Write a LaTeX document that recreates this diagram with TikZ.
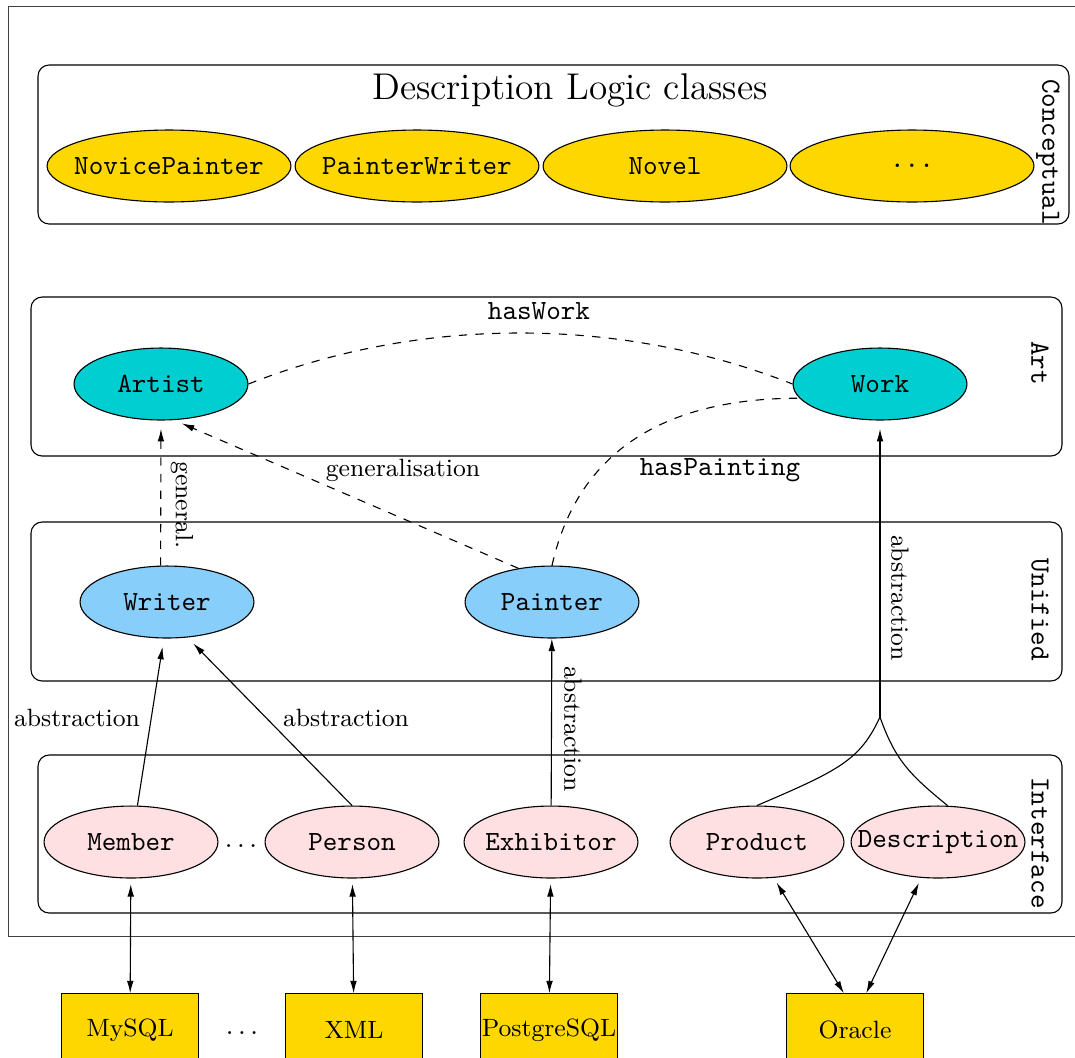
\documentclass[tikz,border=0pt]{standalone}
\usepackage{tikz}
\usetikzlibrary{arrows.meta, shapes.geometric}
\definecolor{dlgold}{RGB}{255,215,0}
\definecolor{artcyan}{RGB}{0,206,209}
\definecolor{unifblue}{RGB}{135,206,250}
\definecolor{ifpink}{RGB}{255,224,226}
\tikzset{layer/.style = {draw, rounded corners = 4pt}}
\tikzset{layername/.style = {rotate = -90, font = \ttfamily}}
\tikzset{cls/.style = {shape = ellipse, draw, inner xsep = -7pt, inner ysep = 0pt, minimum width = 62.6pt, minimum height = 25.9pt, font = \ttfamily}}
\tikzset{dlcls/.style = {cls, fill = dlgold, minimum width = 87.8pt}}
\tikzset{source/.style = {shape = rectangle, draw, fill = dlgold, inner xsep = 0pt, minimum width = 49.3pt, minimum height = 26pt, font = \small}}
\tikzset{edge/.style = {-{Latex[length = 4.5pt, width = 2.4pt]}, shorten > = 3pt}}
\tikzset{genedge/.style = {edge, dashed}}
\tikzset{assoc/.style = {dashed}}
\tikzset{link/.style = {{Latex[length = 4.5pt, width = 2.4pt]}-{Latex[length = 4.5pt, width = 2.4pt]}, shorten < = 2pt}}
\tikzset{edgelabel/.style = {font = \small}}

\begin{document}
\begin{tikzpicture}[x = 0.36pt, y = -0.36pt]
	\useasboundingbox (0, 0) rectangle (1075, 1057);
	\clip (0, 0) rectangle (1075, 1057);
	\draw[black!75, line width = 0.3pt] (8, 6) rectangle (1090, 936);

	\draw[layer] (38, 65) rectangle (1069, 224);
	\draw[layer] (31, 297) rectangle (1062, 456);
	\draw[layer] (31, 522) rectangle (1062, 681);
	\draw[layer] (38, 755) rectangle (1062, 913);
	\node[layername] (conceptual) at (1048, 152) {Conceptual};
	\node[layername] (art) at (1040, 363) {Art};
	\node[layername] (unified) at (1040, 610) {Unified};
	\node[layername] (interface) at (1040, 843) {Interface};

	\node[font = \fontsize{13.4}{16}\selectfont] (title) at (570, 90) {Description Logic classes};
	\node[dlcls] (novice) at (169, 166) {NovicePainter};
	\node[dlcls] (pw) at (417, 166) {PainterWriter};
	\node[dlcls] (novel) at (665, 166) {Novel};
	\node[dlcls] (more) at (912, 166) {...};

	\node[cls, fill = artcyan] (artist) at (161, 384) {Artist};
	\node[cls, fill = artcyan] (work) at (880, 384) {Work};
	\node[cls, fill = unifblue] (writer) at (167, 602) {Writer};
	\node[cls, fill = unifblue] (painter) at (552, 602) {Painter};
	\node[cls, fill = ifpink] (member) at (131, 842) {Member};
	\node (idots) at (241, 846) {$\ldots$};
	\node[cls, fill = ifpink] (person) at (352, 842) {Person};
	\node[cls, fill = ifpink] (exhibitor) at (551, 842) {Exhibitor};
	\node[cls, fill = ifpink] (product) at (757, 842) {Product};
	\node[cls, fill = ifpink] (description) at (938, 842) {Description};

	\node[source] (mysql) at (130, 1030) {MySQL};
	\node (sdots) at (242, 1033) {$\ldots$};
	\node[source] (xml) at (354, 1030) {XML};
	\node[source] (postgres) at (549, 1030) {PostgreSQL};
	\node[source] (oracle) at (855, 1030) {Oracle};

	\draw[assoc] (artist.east) .. controls (420, 316) and (620, 316) .. (work.west);
	\node (haswork) at (539, 311) {\texttt{hasWork}};
	\draw[assoc] (painter.north) .. controls (580, 440) and (680, 398) .. (work.190);
	\node (haspainting) at (720, 470) {\texttt{hasPainting}};

	\draw[genedge] (writer.100) -- (artist.south);
	\node[edgelabel, rotate = -90] (lgeneral) at (182, 505) {general.};
	\draw[genedge] (painter.135) -- (artist.-70);
	\node[edgelabel] (lgeneralisation) at (403, 470) {generalisation};

	\draw[edge] (member.80) -- (writer.265);
	\node[edgelabel] (labsmember) at (77, 718) {abstraction};
	\draw[edge] (person.north) -- (writer.-60);
	\node[edgelabel] (labsperson) at (346, 718) {abstraction};
	\draw[edge, shorten > = 0pt] (exhibitor) -- (painter);
	\node[edgelabel, rotate = -90] (labsexhibitor) at (573, 729) {abstraction};

	\coordinate (merge) at (880, 717);
	\draw (product.north) .. controls (840, 770) and (860, 760) .. (merge);
	\draw (description.75) .. controls (910, 775) and (895, 760) .. (merge);
	\draw[edge] (merge) -- (work.south);
	\node[edgelabel, rotate = -90] (labswork) at (900, 598) {abstraction};

	\draw[link] (member) -- (mysql);
	\draw[link] (person) -- (xml);
	\draw[link] (exhibitor) -- (postgres);
	\draw[link] (product.-65) -- ([xshift = -4pt]oracle.north);
	\draw[link] (description.-115) -- ([xshift = 4pt]oracle.north);
\end{tikzpicture}
\end{document}
